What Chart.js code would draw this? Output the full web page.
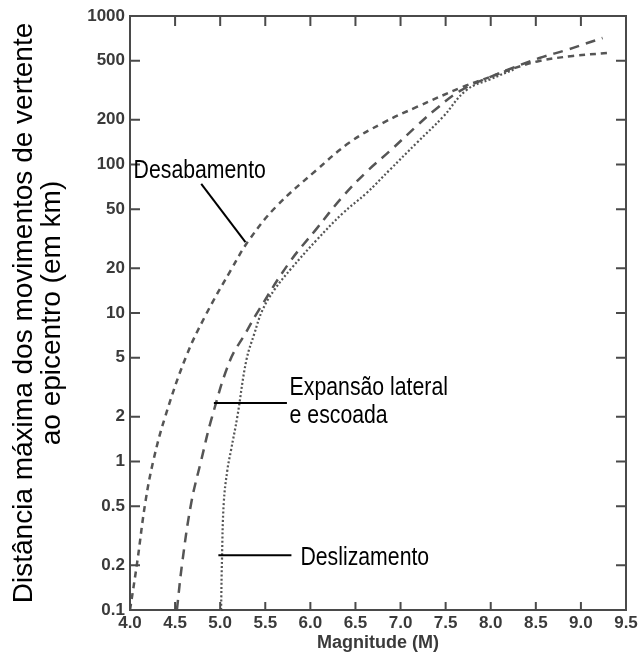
<!DOCTYPE html>
<html>
<head>
<meta charset="utf-8">
<script src="https://cdn.jsdelivr.net/npm/chart.js@4.4.1/dist/chart.umd.min.js"></script>
<style>
  html, body { margin: 0; padding: 0; background: #fff; }
  #wrap { width: 643px; height: 655px; }
</style>
</head>
<body>
<div id="wrap"><canvas id="chart" width="643" height="655"></canvas></div>
<script>
// values (magnitude M, distance in km)
const desabM  = [4.0, 4.08, 4.17, 4.26, 4.39, 4.62, 4.84, 5.13, 5.32, 5.62, 6.07, 6.43, 6.8, 7.18, 7.69, 7.99, 8.27, 8.54, 8.91, 9.29];
const desabKm = [0.1, 0.21, 0.53, 1.02, 2.0, 5.05, 9.7, 20, 31, 52, 92, 140, 190, 244, 333, 388, 447, 498, 538, 563];

const expM  = [4.52, 4.58, 4.68, 4.79, 4.91, 5.11, 5.28, 5.43, 5.77, 6.07, 6.34, 6.62, 6.88, 7.18, 7.38, 7.66, 7.99, 8.54, 8.84, 9.04, 9.24];
const expKm = [0.1, 0.21, 0.53, 1.02, 2.0, 4.8, 7.3, 10.5, 22, 37, 59, 89, 123, 182, 233, 313, 388, 521, 590, 648, 711];

const deslM  = [5.01, 5.02, 5.04, 5.08, 5.12, 5.19, 5.29, 5.38, 5.47, 5.6, 5.79, 6.07, 6.36, 6.62, 6.88, 7.18, 7.47, 7.73, 8.0, 8.27];
const deslKm = [0.1, 0.22, 0.53, 0.88, 1.19, 2.0, 4.8, 7.3, 10.5, 14.3, 20, 31, 47, 64, 92, 140, 209, 317, 376, 440];

const xTicks = [4.0, 4.5, 5.0, 5.5, 6.0, 6.5, 7.0, 7.5, 8.0, 8.5, 9.0, 9.5];
const yTicks = [0.1, 0.2, 0.5, 1, 2, 5, 10, 20, 50, 100, 200, 500, 1000];

const yTitle = ['Distância máxima dos movimentos de vertente', 'ao epicentro (em km)'];
const xTitle = 'Magnitude (M)';

// curve labels with leader lines, anchored in data units
const notes = [
  { text: ['Desabamento'], at: [4.04, 81], from: [4.79, 74], to: [5.28, 30] },
  { text: ['Expansão lateral', 'e escoada'], at: [5.77, 2.8], from: [5.74, 2.48], to: [4.93, 2.48] },
  { text: ['Deslizamento'], at: [5.89, 0.2], from: [5.79, 0.234], to: [4.98, 0.234] }
];

const pts = (xs, ys) => xs.map((x, i) => ({ x: x, y: ys[i] }));
const sans = '"Liberation Sans", Arial, sans-serif';

const frame = {
  id: 'frame',
  afterDatasetsDraw(chart) {
    const { ctx, chartArea: a, scales: { x, y } } = chart;
    ctx.save();
    ctx.strokeStyle = '#4a4a4a';
    ctx.lineWidth = 2;
    ctx.strokeRect(a.left, a.top, a.right - a.left, a.bottom - a.top);

    // ticks point inward on all four sides
    ctx.beginPath();
    xTicks.slice(1, -1).forEach(v => {
      const px = x.getPixelForValue(v);
      ctx.moveTo(px, a.bottom); ctx.lineTo(px, a.bottom - 8);
      ctx.moveTo(px, a.top); ctx.lineTo(px, a.top + 10);
    });
    yTicks.slice(1, -1).forEach(v => {
      const py = y.getPixelForValue(v);
      ctx.moveTo(a.left, py); ctx.lineTo(a.left + 10, py);
      ctx.moveTo(a.right, py); ctx.lineTo(a.right - 10, py);
    });
    ctx.stroke();

    ctx.strokeStyle = '#000';
    ctx.fillStyle = '#000';
    ctx.lineWidth = 2;
    ctx.font = '25px ' + sans;
    ctx.textBaseline = 'alphabetic';
    notes.forEach(n => {
      ctx.beginPath();
      ctx.moveTo(x.getPixelForValue(n.from[0]), y.getPixelForValue(n.from[1]));
      ctx.lineTo(x.getPixelForValue(n.to[0]), y.getPixelForValue(n.to[1]));
      ctx.stroke();
      const tx = x.getPixelForValue(n.at[0]);
      const ty = y.getPixelForValue(n.at[1]);
      n.text.forEach((line, i) => {
        ctx.save();
        ctx.translate(tx, ty + i * 28);
        ctx.scale(0.85, 1);
        ctx.fillText(line, 0, 0);
        ctx.restore();
      });
    });
    ctx.restore();
  }
};

const lineStyle = {
  borderColor: '#555',
  borderWidth: 2.5,
  pointRadius: 0,
  fill: false,
  tension: 0.4
};

new Chart(document.getElementById('chart').getContext('2d'), {
  type: 'line',
  data: {
    datasets: [
      Object.assign({ label: 'Desabamento', data: pts(desabM, desabKm), borderDash: [6, 5] }, lineStyle),
      Object.assign({ label: 'Expansão lateral e escoada', data: pts(expM, expKm), borderDash: [10, 7] }, lineStyle),
      Object.assign({ label: 'Deslizamento', data: pts(deslM, deslKm), borderDash: [2, 2.2] }, lineStyle, { borderWidth: 2.2 })
    ]
  },
  options: {
    responsive: false,
    animation: false,
    layout: { padding: { top: 16, right: 17, left: 0, bottom: 0 } },
    plugins: { legend: { display: false }, tooltip: { enabled: false } },
    scales: {
      x: {
        type: 'linear',
        min: 4.0,
        max: 9.5,
        grid: { display: false, drawTicks: false },
        border: { display: false },
        afterFit: s => { s.height = 45; },
        afterBuildTicks: s => { s.ticks = xTicks.map(v => ({ value: v })); },
        ticks: {
          padding: 3,
          color: '#3a3a3a',
          font: { family: sans, size: 17, weight: 'bold' },
          callback: v => v.toFixed(1)
        },
        title: {
          display: true,
          text: xTitle,
          color: '#3a3a3a',
          padding: { top: 0, bottom: 1 },
          font: { family: sans, size: 18, weight: 'bold' }
        }
      },
      y: {
        type: 'logarithmic',
        min: 0.1,
        max: 1000,
        grid: { display: false, drawTicks: false },
        border: { display: false },
        afterFit: s => { s.width = 130; },
        afterBuildTicks: s => { s.ticks = yTicks.map(v => ({ value: v })); },
        ticks: {
          padding: 5,
          color: '#3a3a3a',
          font: { family: sans, size: 17, weight: 'bold' },
          callback: v => String(v)
        },
        title: {
          display: true,
          text: yTitle,
          color: '#000',
          padding: { top: 11, bottom: 0 },
          font: { family: sans, size: 28, lineHeight: 0.98 }
        }
      }
    }
  },
  plugins: [frame]
});
</script>
</body>
</html>
